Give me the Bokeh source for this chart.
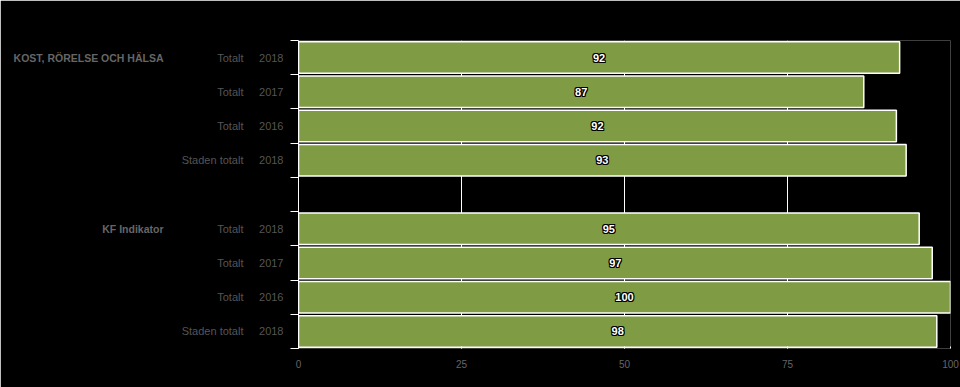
from bokeh.plotting import figure
from bokeh.models import Range1d, FixedTicker, ColumnDataSource, LinearAxis
from bokeh.core.properties import value
from bokeh.embed import file_html
from bokeh.resources import INLINE

# ---- data ----
groups = ["KOST, RÖRELSE OCH HÄLSA", "KF Indikator"]
row_names = ["Totalt", "Totalt", "Totalt", "Staden totalt",
             "Totalt", "Totalt", "Totalt", "Staden totalt"]
row_years = ["2018", "2017", "2016", "2018",
             "2018", "2017", "2016", "2018"]
values = [92.2, 86.7, 91.7, 93.2, 95.2, 97.2, 100.0, 97.9]
slots = [0.5, 1.5, 2.5, 3.5, 5.5, 6.5, 7.5, 8.5]   # row centres (slot 4 is the gap)
group_slots = [0.5, 5.5]
x_ticks = [0, 25, 50, 75, 100]
boundaries = list(range(10))

labels = [str(int(round(v))) for v in values]
mids = [v / 2 for v in values]

src = ColumnDataSource(dict(y=slots, v=values, mid=mids, lab=labels))

FONT = "Liberation Sans"

p = figure(width=960, height=387, x_range=Range1d(0, 100), y_range=Range1d(9, 0),
           output_backend="svg", toolbar_location=None, y_axis_location=None,
           min_border_left=298, min_border_right=10, min_border_top=40, min_border_bottom=39)
p.background_fill_color = "black"
p.border_fill_color = "black"
p.outline_line_color = None

# grid
p.ygrid.grid_line_color = None
p.xgrid.ticker = FixedTicker(ticks=x_ticks)
p.xgrid.grid_line_color = "white"
p.xgrid.grid_line_width = 1

# x axis
p.xaxis.ticker = FixedTicker(ticks=x_ticks)
p.xaxis.axis_line_color = None
p.xaxis.major_tick_line_color = "white"
p.xaxis.major_tick_in = 2
p.xaxis.major_tick_out = 0
p.xaxis.minor_tick_line_color = None
p.xaxis.major_label_standoff = 11
p.xaxis.major_label_text_color = "#666666"
p.xaxis.major_label_text_font = FONT
p.xaxis.major_label_text_font_size = "10px"

# inner axis: white line with ticks at the row boundaries, no labels
edge = LinearAxis(ticker=FixedTicker(ticks=boundaries),
                  major_label_overrides={t: "" for t in boundaries})
edge.axis_line_color = "white"
edge.major_tick_line_color = "white"
edge.major_tick_in = 0
edge.major_tick_out = 8
edge.minor_tick_line_color = None
edge.major_label_standoff = 0
edge.major_label_text_font_size = "0px"
p.add_layout(edge, "left")


def label_axis(ticks, texts, standoff, color, style, size):
    ax = LinearAxis(ticker=FixedTicker(ticks=ticks),
                    major_label_overrides={t: s for t, s in zip(ticks, texts)})
    ax.axis_line_color = None
    ax.major_tick_line_color = None
    ax.major_tick_in = 0
    ax.major_tick_out = 0
    ax.minor_tick_line_color = None
    ax.major_label_standoff = standoff
    ax.major_label_text_color = color
    ax.major_label_text_font = FONT
    ax.major_label_text_font_size = size
    ax.major_label_text_font_style = style
    p.add_layout(ax, "left")
    return ax


label_axis(slots, row_years, 7, "#555555", "normal", "11px")
label_axis(slots, row_names, 13, "#555555", "normal", "11px")
label_axis(group_slots, groups, 15, "#666666", "bold", "10.5px")

# bars
p.hbar(y="y", left=0, right="v", height=0.92, source=src,
       fill_color="#7f9c45", line_color="white", line_width=1.5)

# value labels with dark outline
for dx, dy in [(-1, 0), (1, 0), (0, -1), (0, 1), (-1, -1), (1, 1), (-1, 1), (1, -1)]:
    p.text(x="mid", y="y", text="lab", source=src, x_offset=dx, y_offset=dy,
           text_align="center", text_baseline="middle", text_color="black",
           text_font=value(FONT), text_font_size="11px", text_font_style="bold")
p.text(x="mid", y="y", text="lab", source=src,
       text_align="center", text_baseline="middle", text_color="white",
       text_font=value(FONT), text_font_size="11px", text_font_style="bold")

open("out.html", "w").write(file_html(p, INLINE))
